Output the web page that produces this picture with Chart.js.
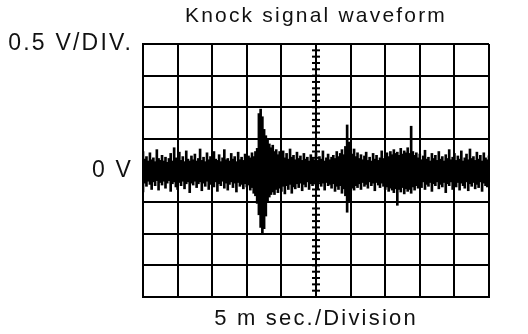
<!DOCTYPE html>
<html>
<head>
<meta charset="utf-8">
<script src="https://cdn.jsdelivr.net/npm/chart.js@4"></script>
<style>
    body { margin: 0; background: #fff; }
    canvas { display: block; }
</style>
</head>
<body>
<canvas id="grafico" width="528" height="334"></canvas>
<script>
// Paso de muestreo (ms) y escala de la pantalla
const pasoMs = 0.25;
const tiempoMax = 50;       // 10 divisiones x 5 ms
const voltajeMax = 2;       // 4 divisiones x 0.5 V

const titulo = 'Knock signal waveform';
const tituloEjeX = '5 m sec./Division';
const etiquetasY = { '2': '0.5 V/DIV.', '0': '0 V' };

// Envolvente superior de la señal (V)
const picosSuperiores = [
    0.30, 0.18, 0.22, 0.15, 0.28, 0.17, 0.20, 0.14, 0.33, 0.19,
    0.16, 0.24, 0.15, 0.21, 0.13, 0.19, 0.27, 0.15, 0.36, 0.20,
    0.17, 0.29, 0.16, 0.22, 0.14, 0.31, 0.18, 0.15, 0.23, 0.17,
    0.26, 0.15, 0.19, 0.34, 0.16, 0.21, 0.14, 0.28, 0.17, 0.22,
    0.15, 0.30, 0.18, 0.16, 0.25, 0.14, 0.20, 0.33, 0.17, 0.19,
    0.15, 0.27, 0.18, 0.22, 0.14, 0.29, 0.17, 0.21, 0.16, 0.26,
    0.18, 0.23, 0.20, 0.28, 0.22, 0.30, 0.35, 0.90, 0.97, 0.85,
    0.65, 0.55, 0.48, 0.42, 0.36, 0.40, 0.30, 0.33, 0.25, 0.30,
    0.22, 0.31, 0.20, 0.27, 0.18, 0.34, 0.21, 0.24, 0.17, 0.29,
    0.19, 0.23, 0.16, 0.27, 0.18, 0.21, 0.15, 0.25, 0.19, 0.17,
    0.28, 0.16, 0.22, 0.18, 0.31, 0.15, 0.20, 0.26, 0.17, 0.21,
    0.24, 0.19, 0.30, 0.22, 0.27, 0.33, 0.25, 0.38, 0.72, 0.45,
    0.30, 0.26, 0.34, 0.22, 0.28, 0.19, 0.25, 0.17, 0.23, 0.29,
    0.16, 0.21, 0.15, 0.27, 0.18, 0.24, 0.16, 0.20, 0.31, 0.19,
    0.23, 0.28, 0.22, 0.30, 0.25, 0.33, 0.27, 0.29, 0.24, 0.35,
    0.26, 0.31, 0.28, 0.36, 0.27, 0.70, 0.30, 0.24, 0.28, 0.20,
    0.26, 0.17, 0.23, 0.32, 0.18, 0.21, 0.15, 0.27, 0.19, 0.24,
    0.16, 0.30, 0.18, 0.22, 0.15, 0.25, 0.19, 0.33, 0.17, 0.21,
    0.27, 0.16, 0.23, 0.18, 0.31, 0.15, 0.20, 0.26, 0.17, 0.34,
    0.19, 0.22, 0.16, 0.29, 0.18, 0.24, 0.15, 0.28, 0.20, 0.17, 0.23
];

// Envolvente inferior de la señal (V)
const picosInferiores = [
    -0.34, -0.20, -0.25, -0.17, -0.22, -0.30, -0.18, -0.24, -0.16, -0.31,
    -0.19, -0.23, -0.17, -0.28, -0.20, -0.16, -0.33, -0.21, -0.18, -0.26,
    -0.30, -0.19, -0.24, -0.17, -0.29, -0.21, -0.18, -0.35, -0.20, -0.23,
    -0.17, -0.27, -0.21, -0.18, -0.32, -0.20, -0.25, -0.17, -0.30, -0.22,
    -0.19, -0.26, -0.18, -0.33, -0.21, -0.24, -0.17, -0.28, -0.20, -0.31,
    -0.22, -0.18, -0.27, -0.20, -0.34, -0.19, -0.25, -0.22, -0.29, -0.21,
    -0.26, -0.23, -0.31, -0.27, -0.36, -0.40, -0.52, -0.70, -0.90, -0.99,
    -0.92, -0.72, -0.50, -0.42, -0.38, -0.34, -0.38, -0.30, -0.35, -0.28,
    -0.33, -0.25, -0.37, -0.24, -0.30, -0.22, -0.36, -0.26, -0.29, -0.21,
    -0.27, -0.20, -0.32, -0.22, -0.26, -0.18, -0.30, -0.21, -0.24, -0.19,
    -0.23, -0.29, -0.18, -0.25, -0.20, -0.31, -0.19, -0.24, -0.22, -0.28,
    -0.21, -0.33, -0.25, -0.30, -0.24, -0.36, -0.29, -0.40, -0.66, -0.50,
    -0.34, -0.28, -0.31, -0.24, -0.27, -0.21, -0.30, -0.19, -0.25, -0.22,
    -0.28, -0.18, -0.24, -0.20, -0.32, -0.19, -0.23, -0.27, -0.20, -0.25,
    -0.30, -0.26, -0.33, -0.28, -0.31, -0.35, -0.29, -0.55, -0.30, -0.34,
    -0.27, -0.37, -0.29, -0.33, -0.30, -0.36, -0.26, -0.31, -0.24, -0.28,
    -0.20, -0.27, -0.18, -0.30, -0.22, -0.25, -0.19, -0.33, -0.21, -0.24,
    -0.18, -0.29, -0.22, -0.26, -0.19, -0.35, -0.21, -0.24, -0.18, -0.30,
    -0.22, -0.26, -0.19, -0.31, -0.20, -0.24, -0.28, -0.18, -0.32, -0.21,
    -0.25, -0.19, -0.29, -0.22, -0.27, -0.18, -0.33, -0.20, -0.24, -0.26, -0.21
];

// Marcas finas del eje central (cada 0.1 V)
const marcasCentrales = [];
for (let v = -1.9; v < 1.95; v += 0.1) {
    marcasCentrales.push({ x: tiempoMax / 2, y: Math.round(v * 10) / 10 });
}

const datosSenal = picosSuperiores.map((alto, i) => ({
    x: i * pasoMs,
    y: [picosInferiores[i], alto]
}));

const fuente = "'Liberation Sans', Arial, sans-serif";

// Espaciado de letras como en el original
const espaciado = {
    id: 'espaciado',
    beforeUpdate(chart) { chart.ctx.letterSpacing = '2.2px'; },
    beforeDraw(chart) { chart.ctx.letterSpacing = '2.2px'; }
};

const ctx = document.getElementById('grafico').getContext('2d');
new Chart(ctx, {
    type: 'bar',
    data: {
        datasets: [{
            type: 'scatter',
            data: marcasCentrales,
            pointStyle: 'line',
            radius: 4,
            borderWidth: 2,
            borderColor: '#000',
            backgroundColor: '#000'
        }, {
            data: datosSenal,
            backgroundColor: '#000',
            borderWidth: 0,
            barThickness: 2,
            grouped: false
        }]
    },
    options: {
        responsive: false,
        animation: false,
        layout: { padding: { left: 0, right: 39, top: 0, bottom: 0 } },
        plugins: {
            legend: { display: false },
            tooltip: { enabled: false }
        },
        scales: {
            x: {
                type: 'linear',
                min: 0,
                max: tiempoMax,
                offset: false,
                ticks: { display: false, stepSize: 5 },
                grid: { color: '#000', lineWidth: 2, drawTicks: false, offset: false },
                border: { color: '#000', width: 2 },
                title: {
                    display: true,
                    text: tituloEjeX,
                    color: '#111',
                    font: { family: fuente, size: 22 },
                    padding: { top: 10, bottom: 2 }
                },
                afterFit(escala) { escala.height = 37; }
            },
            xArriba: {
                type: 'linear',
                position: 'top',
                min: 0,
                max: tiempoMax,
                ticks: { display: false },
                grid: { display: false, drawTicks: false },
                border: { display: false },
                title: {
                    display: true,
                    text: titulo,
                    color: '#111',
                    font: { family: fuente, size: 21 },
                    padding: { top: 4, bottom: 0 }
                },
                afterFit(escala) { escala.height = 44; }
            },
            y: {
                min: -voltajeMax,
                max: voltajeMax,
                ticks: {
                    stepSize: 0.5,
                    padding: 10,
                    color: '#111',
                    font: { family: fuente, size: 23 },
                    callback: valor => etiquetasY[String(valor)] || ''
                },
                grid: { color: '#000', lineWidth: 2, drawTicks: false },
                border: { color: '#000', width: 2 },
                afterFit(escala) { escala.width = 143; }
            }
        }
    },
    plugins: [espaciado]
});
</script>
</body>
</html>
